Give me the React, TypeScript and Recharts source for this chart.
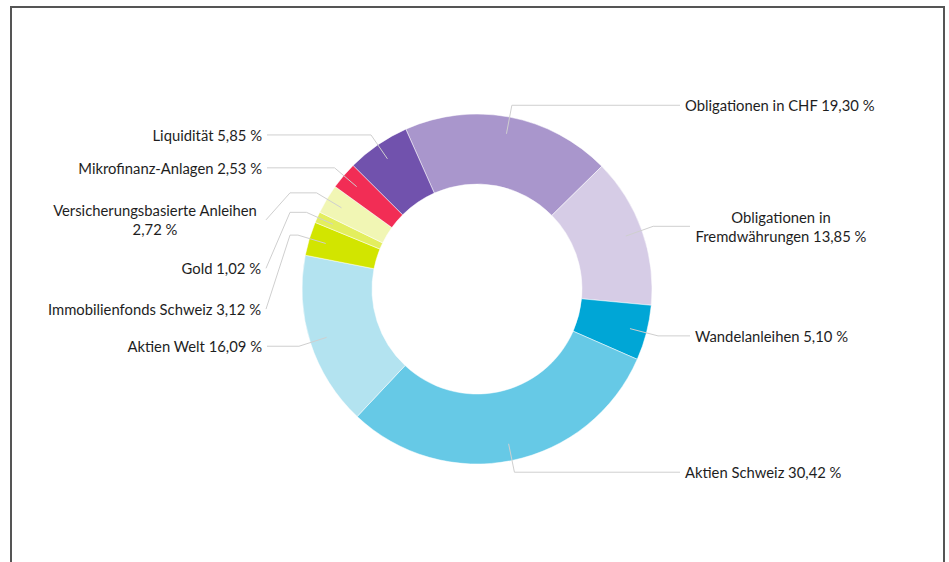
import React from 'react';
import { PieChart, Pie, Cell } from 'recharts';

// slices clockwise, starting at the CHF bonds
const categories = [
  'Obligationen in CHF',
  'Obligationen in\nFremdwährungen',
  'Wandelanleihen',
  'Aktien Schweiz',
  'Aktien Welt',
  'Immobilienfonds Schweiz',
  'Gold',
  'Versicherungsbasierte Anleihen\n',
  'Mikrofinanz-Anlagen',
  'Liquidität',
];
const shares = [19.3, 13.85, 5.1, 30.42, 16.09, 3.12, 1.02, 2.72, 2.53, 5.85];
const colors = [
  '#a996cc', '#d6cce6', '#00a6d6', '#66c9e6', '#b3e3f0',
  '#d2e500', '#e3ee5e', '#f1f6b4', '#f22d55', '#7152ad',
];

const data = categories.map((name, i) => ({ name, value: shares[i] }));

// label nudges for the crowded small slices on the left
const nudge = [
  { dx: 0, dy: 0 }, { dx: 10, dy: 0 }, { dx: 10, dy: 0 }, { dx: 0, dy: 0 }, { dx: 0, dy: 0 },
  { dx: 0, dy: 74 }, { dx: 0, dy: 56 }, { dx: 0, dy: 27 }, { dx: 0, dy: 0 }, { dx: 0, dy: 0 },
];

const RAD = Math.PI / 180;
const fmt = (v: number) => v.toFixed(2).replace('.', ',') + ' %';

function LeaderLabel(props: any) {
  const { cx, cy, midAngle, index, name, value } = props;
  const pt = (r: number) => ({
    x: cx + r * Math.cos(-midAngle * RAD),
    y: cy + r * Math.sin(-midAngle * RAD),
  });
  const a = pt(158);
  const b = pt(187);
  const right = b.x > cx;
  const n = nudge[index];
  const lines = `${name} ${fmt(value)}`.split('\n').map((s) => s.trim());

  let points: string;
  let tx: number;
  let ty = b.y + n.dy;
  let anchor: 'start' | 'end' | 'middle';
  if (right) {
    points = `${a.x},${a.y} ${b.x},${b.y} ${680 + n.dx},${b.y}`;
    tx = 685 + n.dx;
    anchor = 'start';
  } else if (n.dy) {
    points = `${a.x},${a.y} ${b.x},${b.y} 290,${b.y} 266,${ty}`;
    tx = 261;
    anchor = 'end';
  } else {
    points = `${a.x},${a.y} ${b.x},${b.y} 267,${b.y}`;
    tx = 262;
    anchor = 'end';
  }
  const multi = lines.length > 1;
  if (multi) {
    anchor = 'middle';
    tx = right ? tx + 86 : tx - 106;
  }
  const lh = 19;
  const y0 = ty - ((lines.length - 1) * lh) / 2;

  return (
    <g>
      <polyline points={points} fill="none" stroke="#cfcfcf" strokeWidth={1} />
      <text x={tx} y={y0} textAnchor={anchor} fill="#1e1e1e" fontSize={14.8} fontFamily="Lato, 'Open Sans', sans-serif">
        {lines.map((l, i) => (
          <tspan key={i} x={tx} y={y0 + i * lh} dominantBaseline="central">{l}</tspan>
        ))}
      </text>
    </g>
  );
}

export default function App() {
  return (
    <div style={{ position: 'absolute', left: 0, top: 0, width: 949, height: 562, overflow: 'hidden', background: '#fff' }}>
      <div style={styles.frame} />
      <div style={{ position: 'absolute', left: 0, top: 0 }}>
        <PieChart width={949} height={562} margin={{ top: 0, right: 0, bottom: 0, left: 0 }}>
          <Pie
            data={data}
            dataKey="value"
            nameKey="name"
            cx={477}
            cy={289}
            innerRadius={105}
            outerRadius={175}
            startAngle={114}
            endAngle={-246}
            stroke="#ffffff"
            strokeWidth={0.5}
            label={LeaderLabel}
            labelLine={false}
            isAnimationActive={false}
          >
            {data.map((d, i) => (
              <Cell key={d.name} fill={colors[i]} />
            ))}
          </Pie>
        </PieChart>
      </div>
    </div>
  );
}

const styles: Record<string, React.CSSProperties> = {
  frame: {
    position: 'absolute', left: 10, top: 6, width: 935, height: 620,
    border: '2px solid #555', boxSizing: 'border-box',
  },
};
